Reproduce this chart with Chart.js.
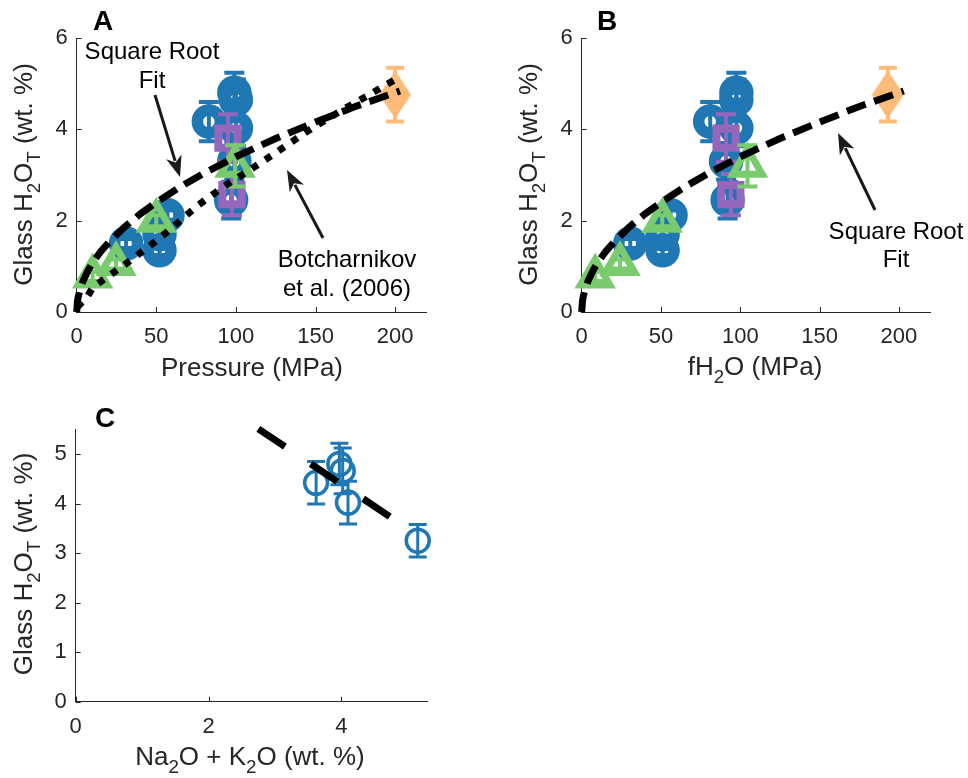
<!DOCTYPE html>
<html>
<head>
<meta charset="utf-8">
<script src="https://cdn.jsdelivr.net/npm/chart.js@4.4.1/dist/chart.umd.min.js"></script>
<style>
  html, body { margin: 0; padding: 0; background: #fff; }
  #wrap { position: relative; width: 968px; height: 778px; }
  #wrap canvas { position: absolute; left: 0; top: 0; }
</style>
</head>
<body>
<div id="wrap">
  <canvas id="chartA" width="968" height="778"></canvas>
  <canvas id="chartB" width="968" height="778"></canvas>
  <canvas id="chartC" width="968" height="778"></canvas>
</div>
<script>
// ---- data ----
// blue circles
const blueH2O      = [1.5, 2.12, 1.7, 1.35, 4.17, 4.8, 4.65, 4.03, 3.3, 2.45];
const blueErr      = [0.1, 0.1, 0.1, 0.1, 0.43, 0.44, 0.44, 0.4, 0.4, 0.4];
const bluePressure = [31, 57, 52, 52, 83, 99, 100, 100, 99, 97];
const blueFH2O     = [30.6, 56, 51, 51, 81, 97.5, 97.5, 97.5, 91, 92];
// green triangles
const greenH2O      = [0.78, 1.05, 2.0, 3.2];
const greenErr      = [0.1, 0.1, 0.12, 0.45];
const greenPressure = [10, 24.7, 50, 99.5];
const greenFH2O     = [8.5, 24.2, 50.8, 104.5];
// purple squares
const purpleH2O      = [3.81, 2.57];
const purpleErr      = [0.52, 0.45];
const purplePressure = [95, 97.5];
const purpleFH2O     = [91, 94];
// orange diamond
const orangeH2O      = [4.76];
const orangeErr      = [0.59];
const orangePressure = [200];
const orangeFH2O     = [193];
// square root fit (same curve in A and B)
const fitX = [0, 0.5, 1, 2, 4, 7, 10, 15, 20, 30, 40, 50, 65, 80, 100, 125, 150, 175, 203];
const fitY = [0, 0.24, 0.34, 0.48, 0.68, 0.9, 1.08, 1.32, 1.52, 1.86, 2.15, 2.4, 2.74, 3.04, 3.4, 3.8, 4.16, 4.5, 4.84];
// Botcharnikov et al. (2006)
const botX = [0.3, 6.5, 10.4, 19.8, 31.4, 46, 58.5, 75.5, 92, 108.7, 123, 134, 148, 167, 184, 192, 202];
const botY = [0.11, 0.33, 0.55, 0.78, 1.07, 1.45, 1.8, 2.32, 2.74, 3.11, 3.44, 3.7, 4.03, 4.43, 4.76, 4.93, 5.13];
// panel C
const alkalis = [3.62, 3.97, 4.02, 4.1, 5.15];
const alkH2O  = [4.42, 4.8, 4.66, 4.02, 3.25];
const alkErr  = [0.43, 0.42, 0.46, 0.43, 0.33];
const alkFitX = [2.75, 4.76];
const alkFitY = [5.51, 3.71];
// ticks
const pressureTicks = [0, 50, 100, 150, 200];
const h2oTicksAB    = [0, 2, 4, 6];
const alkTicks      = [0, 2, 4];
const h2oTicksC     = [0, 1, 2, 3, 4, 5];

const FONT = '"Liberation Sans", Arial, Helvetica, sans-serif';
const AX = '#262626';
const BLUE = '#1f77b4', GREEN = '#7acb6e', PURPLE = '#9467bd', ORANGE = '#fdbb7a';
const H2O_LABEL = [{t: 'Glass H'}, {t: '2', sub: true}, {t: 'O'}, {t: 'T', sub: true}, {t: ' (wt. %)'}];

Chart.defaults.font.family = FONT;
Chart.defaults.color = AX;

function pts(xs, ys) {
  return xs.map((x, i) => ({x: x, y: ys[i]}));
}

// tall filled diamond used as the orange marker
function diamondMarker(w, h, color) {
  const c = document.createElement('canvas');
  c.width = w; c.height = h;
  const g = c.getContext('2d');
  g.fillStyle = color;
  g.beginPath();
  g.moveTo(w / 2, 0); g.lineTo(w, h / 2); g.lineTo(w / 2, h); g.lineTo(0, h / 2);
  g.closePath();
  g.fill();
  return c;
}

function richText(ctx, parts, x, y, size, rot, bold) {
  ctx.save();
  ctx.translate(x, y);
  ctx.rotate(rot || 0);
  ctx.textAlign = 'left';
  ctx.textBaseline = 'alphabetic';
  const subSize = size * 0.72;
  const weight = bold ? 'bold ' : '';
  let total = 0;
  parts.forEach(p => {
    ctx.font = weight + (p.sub ? subSize : size) + 'px ' + FONT;
    p.w = ctx.measureText(p.t).width;
    total += p.w;
  });
  let cx = -total / 2;
  const base = size * 0.36;
  parts.forEach(p => {
    ctx.font = weight + (p.sub ? subSize : size) + 'px ' + FONT;
    ctx.fillText(p.t, cx, base + (p.sub ? size * 0.3 : 0));
    cx += p.w;
  });
  ctx.restore();
}

function arrow(ctx, x1, y1, x2, y2) {
  const a = Math.atan2(y2 - y1, x2 - x1);
  const hl = 21, hw = 8;
  ctx.save();
  ctx.strokeStyle = '#1a1a1a';
  ctx.fillStyle = '#1a1a1a';
  ctx.lineWidth = 3;
  ctx.beginPath();
  ctx.moveTo(x1, y1);
  ctx.lineTo(x2 - Math.cos(a) * hl * 0.8, y2 - Math.sin(a) * hl * 0.8);
  ctx.stroke();
  ctx.beginPath();
  ctx.moveTo(x2, y2);
  ctx.lineTo(x2 - Math.cos(a) * hl - Math.sin(a) * hw, y2 - Math.sin(a) * hl + Math.cos(a) * hw);
  ctx.lineTo(x2 - Math.cos(a) * hl * 0.72, y2 - Math.sin(a) * hl * 0.72);
  ctx.lineTo(x2 - Math.cos(a) * hl + Math.sin(a) * hw, y2 - Math.sin(a) * hl - Math.cos(a) * hw);
  ctx.closePath();
  ctx.fill();
  ctx.restore();
}

// error bars, drawn just before each dataset so layering follows the datasets
const errorBars = {
  id: 'errorBars',
  beforeDatasetDraw(chart, args) {
    const ds = chart.data.datasets[args.index];
    if (!ds.err) return;
    const ctx = chart.ctx, xs = chart.scales.x, ys = chart.scales.y;
    ctx.save();
    ctx.strokeStyle = ds.borderColor;
    ctx.lineWidth = ds.errWidth;
    ds.data.forEach((p, i) => {
      const px = xs.getPixelForValue(p.x);
      const top = ys.getPixelForValue(p.y + ds.err[i]);
      const bot = ys.getPixelForValue(p.y - ds.err[i]);
      ctx.beginPath();
      ctx.moveTo(px, top); ctx.lineTo(px, bot);
      ctx.moveTo(px - ds.cap, top); ctx.lineTo(px + ds.cap, top);
      ctx.moveTo(px - ds.cap, bot); ctx.lineTo(px + ds.cap, bot);
      ctx.stroke();
    });
    ctx.restore();
  }
};

// inward ticks, panel letter, axis titles, notes
const deco = {
  id: 'deco',
  beforeDatasetsDraw(chart) {
    const ctx = chart.ctx, a = chart.chartArea;
    ctx.save();
    ctx.strokeStyle = AX;
    ctx.lineWidth = 1;
    ctx.beginPath();
    chart.scales.x.ticks.forEach(t => {
      const px = Math.round(chart.scales.x.getPixelForValue(t.value)) + 0.5;
      ctx.moveTo(px, a.bottom); ctx.lineTo(px, a.bottom - 5);
    });
    chart.scales.y.ticks.forEach(t => {
      const py = Math.round(chart.scales.y.getPixelForValue(t.value)) + 0.5;
      ctx.moveTo(a.left, py); ctx.lineTo(a.left + 5, py);
    });
    ctx.stroke();
    ctx.restore();
  },
  afterDraw(chart, args, o) {
    const ctx = chart.ctx;
    ctx.save();
    ctx.fillStyle = '#000';
    richText(ctx, [{t: o.letter[0]}], o.letter[1], o.letter[2], 28, 0, true);
    ctx.fillStyle = AX;
    richText(ctx, o.xTitle, o.xTitlePos[0], o.xTitlePos[1], 26, 0);
    richText(ctx, H2O_LABEL, o.yTitlePos[0], o.yTitlePos[1], 26, -Math.PI / 2);
    ctx.fillStyle = '#000';
    (o.notes || []).forEach(n => richText(ctx, [{t: n[0]}], n[1], n[2], 24, 0));
    (o.arrows || []).forEach(r => arrow(ctx, r[0], r[1], r[2], r[3]));
    ctx.restore();
  }
};

function scales(box, xMax, xTicks, yMax, yTicks) {
  return {
    x: {
      type: 'linear', min: 0, max: xMax,
      afterBuildTicks: s => { s.ticks = xTicks.map(v => ({value: v})); },
      afterFit: s => { s.height = 778 - box.bottom; },
      grid: {display: false, drawTicks: false},
      border: {display: true, color: AX, width: 1},
      ticks: {color: AX, font: {size: 22}, padding: 12, maxRotation: 0}
    },
    y: {
      type: 'linear', min: 0, max: yMax,
      afterBuildTicks: s => { s.ticks = yTicks.map(v => ({value: v})); },
      afterFit: s => { s.width = 77; },
      grid: {display: false, drawTicks: false},
      border: {display: true, color: AX, width: 1},
      ticks: {color: AX, font: {size: 22}, padding: 9}
    }
  };
}

function lineSet(data, dash, width) {
  return {data: data, showLine: true, pointRadius: 0, borderColor: '#000', borderWidth: width,
          borderDash: dash, borderCapStyle: 'butt', fill: false, clip: false, order: 0};
}

function markSet(data, color, style, r, bw, err, errW, cap, fill, order) {
  return {data: data, showLine: false, pointStyle: style, pointRadius: r, pointHoverRadius: r,
          pointBorderWidth: bw, borderColor: color, pointBorderColor: color,
          backgroundColor: fill ? color : 'rgba(0,0,0,0)', pointBackgroundColor: fill ? color : 'rgba(0,0,0,0)',
          err: err, errWidth: errW, cap: cap, clip: false, order: order};
}

function makeChart(id, box, datasets, sc, decoOpts) {
  return new Chart(document.getElementById(id), {
    type: 'scatter',
    data: {datasets: datasets},
    options: {
      responsive: false,
      animation: false,
      devicePixelRatio: 1,
      layout: {padding: {left: box.left - 77, top: box.top, right: 968 - box.right, bottom: 0}},
      scales: sc,
      plugins: {legend: {display: false}, tooltip: {enabled: false}, deco: decoOpts}
    },
    plugins: [errorBars, deco]
  });
}

function abSets(xBlue, xGreen, xPurple, xOrange, withBot) {
  const sets = [lineSet(pts(fitX, fitY), [20, 9], 7)];
  if (withBot) sets.push(lineSet(pts(botX, botY), [7, 9], 7));
  sets.push(markSet(pts(xGreen, greenH2O), GREEN, 'triangle', 17, 7, greenErr, 4, 10, false, 1));
  sets.push(markSet(pts(xPurple, purpleH2O), PURPLE, 'rect', 13.6, 8, purpleErr, 4, 10, false, 2));
  sets.push(markSet(pts(xOrange, orangeH2O), ORANGE, diamondMarker(32, 48, ORANGE), 16, 0, orangeErr, 4, 9, true, 3));
  sets.push(markSet(pts(xBlue, blueH2O), BLUE, 'circle', 11.5, 11.5, blueErr, 4, 10, false, 4));
  return sets;
}

const boxA = {left: 76.7, top: 38, right: 427, bottom: 312};
const boxB = {left: 581.7, top: 38, right: 930.7, bottom: 312};
const boxC = {left: 75.7, top: 429.3, right: 427.7, bottom: 701.7};

makeChart('chartA', boxA,
  abSets(bluePressure, greenPressure, purplePressure, orangePressure, true),
  scales(boxA, 220, pressureTicks, 6, h2oTicksAB),
  {
    letter: ['A', 103, 20],
    xTitle: [{t: 'Pressure (MPa)'}], xTitlePos: [252, 367],
    yTitlePos: [23, 174.5],
    notes: [['Square Root', 152, 50], ['Fit', 152, 79], ['Botcharnikov', 347, 258], ['et al. (2006)', 347, 287]],
    arrows: [[155, 95, 180, 177], [323, 238, 287, 170]]
  });

makeChart('chartB', boxB,
  abSets(blueFH2O, greenFH2O, purpleFH2O, orangeFH2O, false),
  scales(boxB, 220, pressureTicks, 6, h2oTicksAB),
  {
    letter: ['B', 607, 20],
    xTitle: [{t: 'fH'}, {t: '2', sub: true}, {t: 'O (MPa)'}], xTitlePos: [755, 366],
    yTitlePos: [528, 174.5],
    notes: [['Square Root', 896, 230], ['Fit', 896, 258]],
    arrows: [[875, 210, 838, 133]]
  });

makeChart('chartC', boxC,
  [lineSet(pts(alkFitX, alkFitY), [32, 31], 7),
   markSet(pts(alkalis, alkH2O), BLUE, 'circle', 11.5, 3.5, alkErr, 3, 9, false, 1)],
  scales(boxC, 5.3, alkTicks, 5.5, h2oTicksC),
  {
    letter: ['C', 105, 417],
    xTitle: [{t: 'Na'}, {t: '2', sub: true}, {t: 'O + K'}, {t: '2', sub: true}, {t: 'O (wt. %)'}], xTitlePos: [250, 756],
    yTitlePos: [23, 564]
  });
</script>
</body>
</html>
